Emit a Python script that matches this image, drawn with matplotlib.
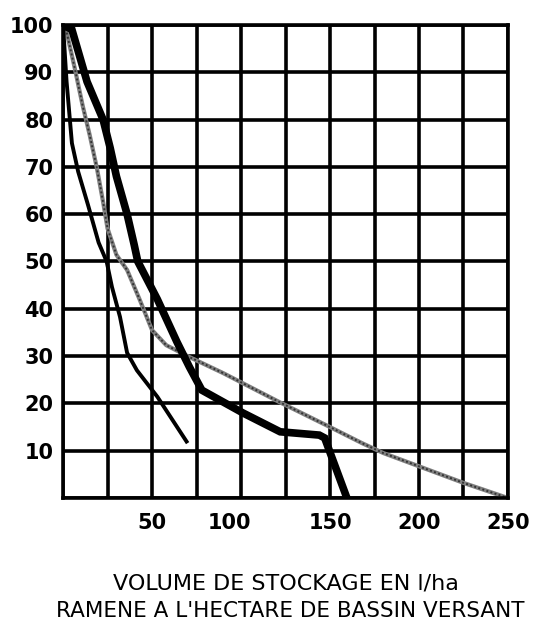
import matplotlib

matplotlib.use("Agg")
import matplotlib.pyplot as plt
import matplotlib.transforms as mtransforms

plt.rcParams["font.family"] = ["DejaVu Sans"]

# courbe épaisse
thick_x = [0, 5, 13.5, 22.5, 26.5, 30, 36, 40, 42, 53, 64, 71, 78, 101, 122, 144, 147, 159.5]
thick_y = [100, 99, 88, 80, 74, 68, 60, 53.5, 50, 42, 33, 27.7, 22.8, 18, 14, 13.3, 12.7, 0]

# courbe fine
thin_x = [0, 2, 5, 8.5, 14, 20, 24.5, 27.5, 32, 36, 41.5, 53, 70]
thin_y = [100, 88, 75, 69, 62, 54, 50, 44.6, 38.3, 30.7, 27, 21.4, 11.6]

# courbe pointillée grise
dot_x = [0, 2, 6.5, 11, 15, 19, 22.5, 25, 30, 36, 43, 50, 58, 71, 90, 122, 150, 168, 180, 225, 250]
dot_y = [100, 98.5, 91, 83, 76.7, 69.8, 62.6, 57, 51.4, 48.2, 42, 35.5, 32.3, 29.8, 26.4, 20.2,
         15, 11.6, 9.5, 3.2, 0]

x_grid = list(range(0, 251, 25))
y_grid = list(range(0, 101, 10))
x_ticks = [50, 100, 150, 200, 250]
y_ticks = [10, 20, 30, 40, 50, 60, 70, 80, 90, 100]

fig = plt.figure(figsize=(5.48, 6.23), dpi=100)
ax = fig.add_axes([0.115, 0.2006, 0.812, 0.7594])

for gx in x_grid:
    ax.axvline(gx, color="black", lw=2.6, zorder=1)
for gy in y_grid:
    ax.axhline(gy, color="black", lw=2.6, zorder=1)

ax.plot(dot_x, dot_y, color="0.5", lw=3, zorder=2)
ax.plot(dot_x, dot_y, color="0.2", lw=1.4, linestyle=(0, (1, 1.2)), zorder=2)
ax.plot(thin_x, thin_y, color="black", lw=2.8, zorder=3, solid_capstyle="butt")
ax.plot(thick_x, thick_y, color="black", lw=5.5, zorder=4, solid_joinstyle="miter")

ax.set_xlim(0, 250)
ax.set_ylim(0, 100)
for s in ax.spines.values():
    s.set_linewidth(2.6)
ax.set_xticks(x_ticks)
ax.set_yticks(y_ticks)
ax.tick_params(axis="y", length=0, labelsize=15, pad=7)
ax.tick_params(axis="x", length=0, labelsize=15, pad=11)
ax.set_xticklabels([str(v) for v in x_ticks], fontweight="bold")
ax.set_yticklabels([str(v) for v in y_ticks], fontweight="bold")

# le "100" de l'original est décalé vers la gauche
lbl = ax.get_xticklabels()[1]
lbl.set_transform(lbl.get_transform() + mtransforms.ScaledTranslation(-0.12, 0, fig.dpi_scale_trans))

fig.text(0.522, 0.064, "VOLUME DE STOCKAGE EN l/ha", ha="center", va="center", fontsize=16)
fig.text(0.53, 0.019, "RAMENE A L'HECTARE DE BASSIN VERSANT", ha="center", va="center", fontsize=15.5)

fig.savefig("out.png", dpi=100)
